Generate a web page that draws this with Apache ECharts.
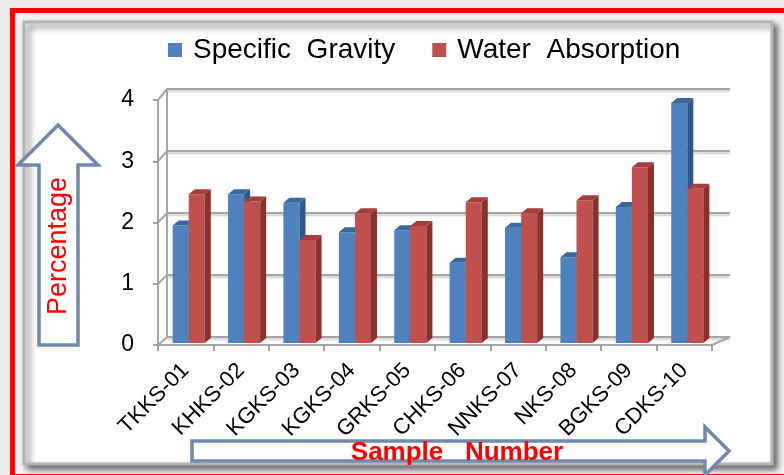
<!DOCTYPE html>
<html>
<head>
<meta charset="utf-8">
<script src="https://cdn.jsdelivr.net/npm/echarts@6/dist/echarts.min.js"></script>
<style>
  html, body { margin: 0; padding: 0; background: #ececec; }
  #chart { width: 784px; height: 475px; }
</style>
</head>
<body>
<div id="chart"></div>
<script>
const samples = ['TKKS-01', 'KHKS-02', 'KGKS-03', 'KGKS-04', 'GRKS-05', 'CHKS-06', 'NNKS-07', 'NKS-08', 'BGKS-09', 'CDKS-10'];
const specificGravity = [1.92, 2.43, 2.29, 1.81, 1.84, 1.31, 1.88, 1.40, 2.22, 3.92];
const waterAbsorption = [2.43, 2.31, 1.68, 2.12, 1.91, 2.30, 2.12, 2.33, 2.87, 2.52];
const yTicks = [0, 1, 2, 3, 4];

const FONT = 'Liberation Sans';
const GRID_LINE = '#a6a6a6';
// front plane and back wall of the fake 3d box
const front = { left: 158, right: 72, top: 100, bottom: 130 };
const back = { left: 167, right: 54, top: 89, bottom: 138 };

const chartDom = document.getElementById('chart');
const myChart = echarts.init(chartDom, null, { renderer: 'canvas' });

// bar with a front face, a right side and a top, like excel's 3d columns
function bar3d(leftSide, face, side, topColor) {
    return function (params, api) {
        const v = api.value(1);
        const top = api.coord([api.value(0), v]);
        const base = api.coord([api.value(0), 0]);
        const w = api.size([1, 0])[0];
        const bw = w * 0.29;
        const x = top[0] + 3 + (leftSide ? -bw : 0);
        const yT = top[1] - 2;
        const yB = base[1] - 2;
        const dx = 6, dy = -5;
        return {
            type: 'group',
            children: [
                { type: 'rect', shape: { x: x, y: yT, width: bw, height: yB - yT }, style: { fill: face } },
                { type: 'polygon', shape: { points: [[x + bw, yT], [x + bw + dx, yT + dy], [x + bw + dx, yB + dy], [x + bw, yB]] }, style: { fill: side } },
                { type: 'polygon', shape: { points: [[x, yT], [x + dx, yT + dy], [x + bw + dx, yT + dy], [x + bw, yT]] }, style: { fill: topColor } }
            ]
        };
    };
}

// the slanted edges of the left wall and floor
function wallEdges(params, api) {
    const v = api.value(1);
    const p = api.coord([0, v]);
    const w = api.size([1, 0])[0];
    const x0 = p[0] - w / 2;
    const backH = 475 - back.top - back.bottom;
    const yBack = back.top + (4 - v) / 4 * backH;
    const children = [
        { type: 'line', shape: { x1: x0, y1: p[1], x2: back.left, y2: yBack }, style: { stroke: GRID_LINE, lineWidth: 2 } }
    ];
    if (v === 0) {
        const xr = api.coord([samples.length - 1, 0])[0] + w / 2;
        children.push({ type: 'line', shape: { x1: xr, y1: p[1], x2: 784 - back.right, y2: yBack }, style: { stroke: GRID_LINE, lineWidth: 2 } });
    }
    return { type: 'group', children: children };
}

const arrowStroke = '#7289aa';

const option = {
    animation: false,
    backgroundColor: '#ececec',
    textStyle: { fontFamily: FONT },
    graphic: [
        { type: 'rect', z: -20, shape: { x: 12.5, y: 10.5, width: 800, height: 466 }, style: { fill: '#f3f3f3', stroke: '#ff0000', lineWidth: 5 } },
        { type: 'rect', z: -19, shape: { x: 24, y: 22, width: 748, height: 442 },
          style: { fill: '#ffffff', stroke: '#b5b5b5', lineWidth: 3, shadowBlur: 6, shadowOffsetX: 4, shadowOffsetY: 4, shadowColor: 'rgba(0,0,0,0.55)' } },
        { type: 'polygon', z: 10,
          shape: { points: [[58, 125], [98, 165], [78, 165], [78, 345], [39, 345], [39, 165], [18, 165]] },
          style: { fill: '#ffffff', stroke: arrowStroke, lineWidth: 3.5 } },
        { type: 'text', z: 11, x: 59, y: 246, rotation: Math.PI / 2,
          style: { text: 'Percentage', fill: '#ff0000', font: '27px "Liberation Sans"', align: 'center', verticalAlign: 'middle' } },
        { type: 'polygon', z: 10,
          shape: { points: [[192, 441], [705, 441], [705, 427], [729, 451], [705, 475], [705, 461], [192, 461]] },
          style: { fill: '#ffffff', stroke: arrowStroke, lineWidth: 3.5 } },
        { type: 'text', z: 11, x: 457, y: 453,
          style: { text: 'Sample   Number', fill: '#ff0000', font: 'bold 26px "Liberation Sans"', align: 'center', verticalAlign: 'middle' } }
    ],
    legend: {
        top: 31,
        left: 163,
        itemWidth: 14,
        itemHeight: 14,
        itemGap: 37,
        icon: 'rect',
        textStyle: { fontSize: 28, color: '#000', fontFamily: FONT, padding: [0, 0, 0, 6] },
        data: ['Specific  Gravity', 'Water  Absorption']
    },
    grid: [
        Object.assign({ containLabel: false }, front),
        Object.assign({ containLabel: false }, back)
    ],
    xAxis: [
        {
            type: 'category', gridIndex: 0, data: samples,
            axisLine: { lineStyle: { color: GRID_LINE, width: 2 } },
            axisTick: { show: true, length: 6, lineStyle: { color: '#888', width: 1.5 } },
            axisLabel: { rotate: 45, fontSize: 22, color: '#000', margin: 22, interval: 0 }
        },
        {
            type: 'category', gridIndex: 1, data: samples,
            axisLine: { show: false }, axisTick: { show: false }, axisLabel: { show: false }
        }
    ],
    yAxis: [
        {
            type: 'value', gridIndex: 0, min: 0, max: 4, interval: 1,
            axisLine: { show: true, lineStyle: { color: GRID_LINE, width: 2 } },
            axisTick: { show: true, length: 5, lineStyle: { color: '#888', width: 1.5 } },
            axisLabel: { fontSize: 23, color: '#000', margin: 24 },
            splitLine: { show: false }
        },
        {
            type: 'value', gridIndex: 1, min: 0, max: 4, interval: 1,
            axisLine: { show: true, lineStyle: { color: GRID_LINE, width: 2 } },
            axisTick: { show: false }, axisLabel: { show: false },
            splitLine: { lineStyle: { color: GRID_LINE, width: 2, shadowColor: 'rgba(0,0,0,0.2)', shadowOffsetY: 2, shadowBlur: 2 } }
        }
    ],
    series: [
        {
            name: 'edges', type: 'custom', xAxisIndex: 0, yAxisIndex: 0, z: 1,
            renderItem: wallEdges,
            data: yTicks.map((t) => [0, t])
        },
        {
            name: 'Specific  Gravity', type: 'custom', xAxisIndex: 0, yAxisIndex: 0, z: 3,
            itemStyle: { color: '#4f81bd' },
            renderItem: bar3d(true, '#4f81bd', '#2f5788', '#3a679e'),
            data: specificGravity.map((v, i) => [i, v])
        },
        {
            name: 'Water  Absorption', type: 'custom', xAxisIndex: 0, yAxisIndex: 0, z: 4,
            itemStyle: { color: '#c0504d' },
            renderItem: bar3d(false, '#c0504d', '#8a302d', '#a53e3b'),
            data: waterAbsorption.map((v, i) => [i, v])
        }
    ]
};

if (option && typeof option === 'object') {
    myChart.setOption(option);
}

window.addEventListener('resize', myChart.resize);
</script>
</body>
</html>
